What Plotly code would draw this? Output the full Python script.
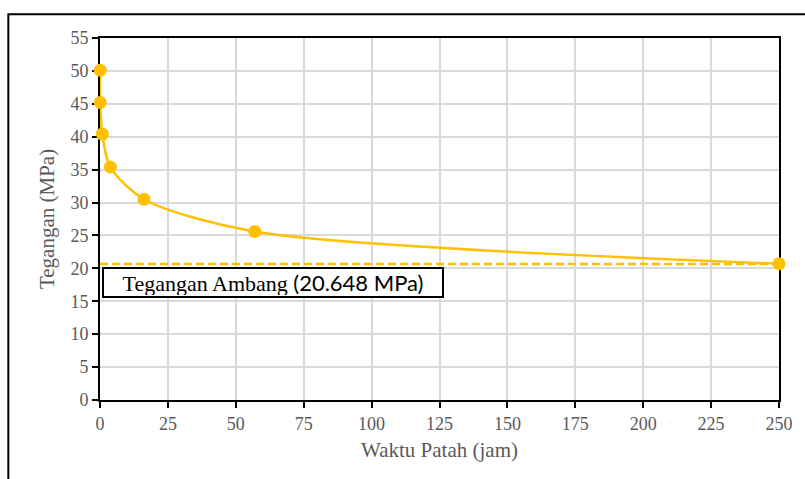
import plotly.graph_objects as go

# Data
waktu = [0.1, 0.1, 0.85, 3.8, 16.2, 57.0, 250.0]
tegangan = [50.1, 45.2, 40.4, 35.4, 30.5, 25.6, 20.7]
ambang = 20.648
ambang_x = [0, 250]
x_ticks = [0, 25, 50, 75, 100, 125, 150, 175, 200, 225, 250]
y_ticks = [0, 5, 10, 15, 20, 25, 30, 35, 40, 45, 50, 55]

gold = "#FFC000"
serif = "Liberation Serif, Times New Roman, serif"

fig = go.Figure()
fig.add_trace(go.Scatter(
    x=ambang_x, y=[ambang, ambang], mode="lines",
    line=dict(color=gold, width=2.5, dash="8px,4px"),
    hoverinfo="skip", showlegend=False, cliponaxis=False))
fig.add_trace(go.Scatter(
    x=waktu, y=tegangan, mode="lines+markers",
    line=dict(color=gold, width=2.5, shape="spline", smoothing=0.8),
    marker=dict(color=gold, size=13),
    showlegend=False, cliponaxis=False))

axis_common = dict(showgrid=True, gridcolor="#d9d9d9", gridwidth=1.5,
                   zeroline=False, showline=True, linecolor="black",
                   linewidth=2, mirror=True, ticks="outside", ticklen=6,
                   tickwidth=2, tickcolor="black", layer="below traces",
                   tickfont=dict(family=serif, size=18, color="#595959"))

fig.update_layout(
    width=805, height=479,
    margin=dict(l=100, r=23.5, t=37.7, b=79),
    paper_bgcolor="white", plot_bgcolor="white",
    font=dict(family=serif, color="#595959", size=18),
    xaxis=dict(range=[0, 250], tickvals=x_ticks, **axis_common,
               title=dict(text="Waktu Patah (jam)", standoff=10,
                          font=dict(family=serif, size=21, color="#595959"))),
    yaxis=dict(range=[0, 55], tickvals=y_ticks, **axis_common,
               title=dict(text="Tegangan (MPa)", standoff=10,
                          font=dict(family=serif, size=21, color="#595959"))),
)

fig.add_annotation(
    x=0.0025, y=1.0 - (266.7 - 37.7) / 362.3, xref="paper", yref="paper",
    xanchor="left", yanchor="top", showarrow=False,
    text="Tegangan Ambang <span style='font-family:Lato, sans-serif'>(20.648 MPa)</span>",
    font=dict(family=serif, size=22, color="black"),
    bgcolor="white", bordercolor="black", borderwidth=2, borderpad=1,
    width=336, height=25, align="center")

# outer frame
fig.add_shape(type="rect", xref="paper", yref="paper",
              x0=(8 - 100) / 681.5, x1=1.3, y0=-0.5, y1=(400 - 14) / 362.3,
              line=dict(color="black", width=2), fillcolor="rgba(0,0,0,0)",
              layer="above")

fig.write_html("out.html")
